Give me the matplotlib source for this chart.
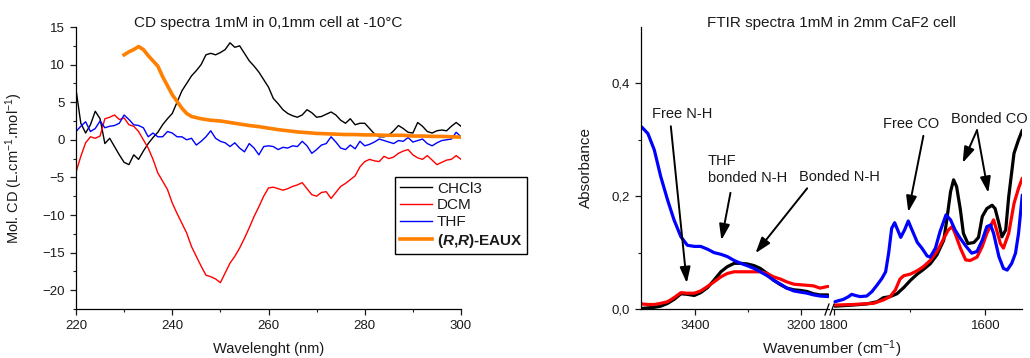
import matplotlib
matplotlib.use("Agg")
from matplotlib import pyplot as plt
from matplotlib.lines import Line2D

# ---- CD spectra (left) ----
cd_nm = list(range(220, 301))
cd_chcl3 = [6.7, 2.2, 0.9, 2.0, 3.8, 2.8, -0.5, 0.2, -0.9, -2.0,
            -3.0, -3.3, -2.0, -2.6, -1.5, -0.5, 0.3, 1.0, 2.0, 2.8,
            3.5, 5.0, 6.5, 7.5, 8.5, 9.2, 10.0, 11.3, 11.5, 11.3,
            11.6, 12.0, 12.9, 12.3, 12.5, 11.5, 10.5, 9.8, 9.0, 8.0,
            7.0, 5.5, 4.8, 4.0, 3.5, 3.2, 3.0, 3.3, 4.0, 3.6,
            3.0, 3.1, 3.4, 3.7, 3.3, 2.6, 2.2, 2.8, 2.0, 2.2,
            2.2, 1.5, 0.8, 0.4, 0.4, 0.6, 1.2, 1.9, 1.5, 1.0,
            0.9, 2.3, 1.8, 1.1, 0.9, 1.2, 1.3, 1.2, 1.8, 2.3, 1.8]
cd_dcm = [-4.3, -2.2, -0.4, 0.4, 0.2, 0.5, 2.8, 3.0, 3.3, 2.7,
          2.9, 2.0, 1.8, 1.1, 0.0, -1.1, -2.6, -4.4, -5.5, -6.6,
          -8.4, -9.8, -11.1, -12.4, -14.2, -15.5, -16.8, -18.0, -18.2, -18.5,
          -19.0, -17.7, -16.4, -15.5, -14.4, -13.1, -11.7, -10.2, -8.9, -7.5,
          -6.4, -6.3, -6.5, -6.7, -6.5, -6.2, -6.0, -5.7, -6.5, -7.3,
          -7.5, -7.0, -6.9, -7.8, -7.0, -6.2, -5.8, -5.3, -4.8, -3.6,
          -2.9, -2.6, -2.8, -2.9, -2.2, -2.5, -2.3, -1.8, -1.5, -1.3,
          -2.0, -2.4, -2.6, -2.1, -2.7, -3.3, -3.0, -2.7, -2.6, -2.1, -2.6]
cd_thf = [1.1, 1.8, 2.4, 1.1, 1.5, 2.5, 1.6, 1.8, 1.9, 2.2,
          3.3, 2.7, 2.0, 1.9, 1.6, 0.4, 0.9, 0.4, 0.4, 1.1,
          0.9, 0.4, 0.4, 0.0, 0.2, -0.7, -0.2, 0.4, 1.2, 0.2,
          -0.2, -0.4, -0.9, -0.4, -1.1, -1.6, -0.5, -1.1, -2.0, -0.9,
          -0.8, -0.9, -1.3, -1.0, -1.1, -0.8, -0.9, -0.2, -0.8, -1.8,
          -1.3, -0.7, -0.5, 0.4, -0.3, -1.1, -1.3, -0.7, -1.2, -0.2,
          -0.8, -0.6, -0.3, 0.1, -0.1, -0.3, -0.5, -0.1, -0.2, 0.3,
          -0.3, -0.1, 0.1, -0.5, -0.8, -0.4, -0.1, 0.0, 0.1, 1.0, 0.4]
eaux_nm = [230, 231, 232, 233, 234, 235, 236, 237, 238, 239, 240, 241, 242,
           243, 244, 246, 248, 250, 252, 254, 256, 258, 260, 262, 264, 266,
           268, 270, 272, 274, 276, 278, 280, 282, 284, 286, 288, 290, 292,
           294, 296, 298, 300]
eaux_cd = [11.3, 11.7, 12.0, 12.4, 12.0, 11.2, 10.5, 9.8, 8.4, 7.2, 6.0, 5.1,
           4.2, 3.5, 3.1, 2.8, 2.6, 2.5, 2.3, 2.1, 1.9, 1.75, 1.55, 1.35, 1.2,
           1.05, 0.95, 0.85, 0.8, 0.75, 0.7, 0.7, 0.65, 0.65, 0.6, 0.6, 0.6,
           0.5, 0.5, 0.45, 0.45, 0.4, 0.35]

# ---- FTIR spectra (right) ----
nh_wn = [3500, 3488, 3476, 3464, 3451, 3439, 3426, 3414, 3401, 3389, 3376,
         3364, 3351, 3339, 3326, 3314, 3302, 3289, 3277, 3264, 3252, 3239,
         3227, 3214, 3202, 3189, 3177, 3165, 3150]
nh_thf = [0.323, 0.311, 0.282, 0.235, 0.193, 0.158, 0.128, 0.113, 0.111,
          0.111, 0.106, 0.100, 0.097, 0.093, 0.086, 0.081, 0.077, 0.072,
          0.066, 0.059, 0.051, 0.044, 0.037, 0.032, 0.030, 0.028, 0.025,
          0.023, 0.022]
nh_chcl3 = [0.001, 0.002, 0.003, 0.005, 0.010, 0.017, 0.027, 0.026, 0.024,
            0.029, 0.038, 0.051, 0.066, 0.075, 0.081, 0.081, 0.080, 0.077,
            0.072, 0.063, 0.051, 0.043, 0.037, 0.034, 0.033, 0.031, 0.027,
            0.025, 0.025]
nh_dcm = [0.009, 0.008, 0.008, 0.010, 0.013, 0.020, 0.029, 0.028, 0.028,
          0.032, 0.040, 0.048, 0.057, 0.063, 0.066, 0.066, 0.066, 0.066,
          0.066, 0.063, 0.057, 0.053, 0.048, 0.044, 0.043, 0.042, 0.041,
          0.037, 0.040]

co_wn_thf = [1799, 1788, 1781, 1777, 1772, 1766, 1757, 1750, 1743, 1737, 1732,
             1728, 1724, 1720, 1716, 1712, 1707, 1702, 1697, 1690, 1684, 1677,
             1673, 1666, 1660, 1652, 1646, 1640, 1633, 1626, 1618, 1611, 1604,
             1598, 1593, 1589, 1582, 1576, 1571, 1565, 1560, 1556, 1551]
co_thf = [0.013, 0.017, 0.022, 0.026, 0.024, 0.022, 0.023, 0.031, 0.043,
          0.054, 0.066, 0.099, 0.143, 0.153, 0.140, 0.127, 0.140, 0.156,
          0.140, 0.118, 0.108, 0.094, 0.092, 0.108, 0.137, 0.167, 0.158,
          0.140, 0.125, 0.112, 0.099, 0.102, 0.122, 0.146, 0.149, 0.134,
          0.093, 0.072, 0.069, 0.081, 0.099, 0.134, 0.202]
co_wn_chcl3 = [1799, 1775, 1757, 1743, 1735, 1726, 1717, 1708, 1699, 1690,
               1682, 1673, 1664, 1655, 1651, 1646, 1642, 1638, 1633, 1629,
               1623, 1615, 1609, 1604, 1598, 1591, 1587, 1582, 1578, 1573,
               1569, 1562, 1556, 1551]
co_chcl3 = [0.005, 0.007, 0.009, 0.013, 0.020, 0.022, 0.027, 0.038, 0.051,
            0.062, 0.070, 0.080, 0.096, 0.122, 0.158, 0.208, 0.229, 0.217,
            0.176, 0.134, 0.116, 0.118, 0.127, 0.164, 0.178, 0.184, 0.178,
            0.152, 0.128, 0.140, 0.199, 0.276, 0.300, 0.317]
co_wn_dcm = [1799, 1775, 1748, 1735, 1726, 1719, 1713, 1708, 1699, 1690, 1682,
             1673, 1664, 1655, 1649, 1644, 1640, 1633, 1626, 1620, 1611, 1604,
             1598, 1589, 1585, 1580, 1576, 1569, 1562, 1556, 1551]
co_dcm = [0.007, 0.008, 0.010, 0.016, 0.022, 0.034, 0.053, 0.059, 0.062,
          0.068, 0.075, 0.086, 0.102, 0.125, 0.140, 0.146, 0.134, 0.108,
          0.087, 0.086, 0.092, 0.111, 0.134, 0.158, 0.140, 0.116, 0.108,
          0.134, 0.187, 0.214, 0.232]

ftir_yticks = [0.0, 0.2, 0.4]
ftir_ylabels = ['0,0', '0,2', '0,4']

plt.rcParams['font.family'] = ['Liberation Sans', 'DejaVu Sans']
plt.rcParams['mathtext.fontset'] = 'custom'
plt.rcParams['mathtext.rm'] = 'Liberation Sans'
plt.rcParams['mathtext.it'] = 'Liberation Sans:italic'
plt.rcParams['mathtext.bf'] = 'Liberation Sans:bold'
plt.rcParams['mathtext.bfit'] = 'Liberation Sans:bold:italic'
plt.rcParams['text.color'] = '#1a1a1a'
plt.rcParams['axes.labelcolor'] = '#1a1a1a'
plt.rcParams['xtick.color'] = '#1a1a1a'
plt.rcParams['ytick.color'] = '#1a1a1a'

W, H = 1030, 358
fig = plt.figure(figsize=(W / 100, H / 100), dpi=100, facecolor='w')


def box(x0, x1, y_top=27, y_bot=309):
    return [x0 / W, 1 - y_bot / H, (x1 - x0) / W, (y_bot - y_top) / H]


def style(ax):
    for s in ['top', 'right']:
        ax.spines[s].set_visible(False)
    for s in ['left', 'bottom']:
        ax.spines[s].set_linewidth(0.9)
    ax.tick_params(which='major', direction='out', length=4, width=0.9,
                   labelsize=9.5, pad=4)
    ax.tick_params(which='minor', direction='out', length=2.5, width=0.8)


# left chart
ax1 = fig.add_axes(box(76, 461))
style(ax1)
ax1.plot(cd_nm, cd_chcl3, color='black', lw=1.0, label='CHCl3')
ax1.plot(cd_nm, cd_dcm, color='#ff0000', lw=1.0, label='DCM')
ax1.plot(cd_nm, cd_thf, color='#0000ff', lw=1.0, label='THF')
ax1.plot(eaux_nm, eaux_cd, color='#ff8000', lw=2.6,
         label=r'($\mathbfit{R}$,$\mathbfit{R}$)-EAUX')
ax1.set_xlim(220, 300)
ax1.set_ylim(-22.5, 15)
ax1.set_xticks(range(220, 301, 20))
ax1.set_xticks(range(230, 300, 20), minor=True)
ax1.set_yticks(range(-20, 16, 5))
ax1.set_yticks([-22.5, -17.5, -12.5, -7.5, -2.5, 2.5, 7.5, 12.5], minor=True)
ax1.set_ylabel(r'Mol. CD (L.cm$^{-1}$.mol$^{-1}$)', fontsize=10.5)
ax1.yaxis.set_label_coords(-0.132, 0.5)
fig.text(268.5 / W, 1 - 353 / H, 'Wavelenght (nm)', ha='center',
         va='baseline', fontsize=10.5)
fig.text(268.5 / W, 1 - 27.5 / H, 'CD spectra 1mM in 0,1mm cell at -10°C',
         ha='center', va='baseline', fontsize=11)

leg = ax1.legend(loc='upper left', bbox_to_anchor=(395 / W, 1 - 177 / H),
                 bbox_transform=fig.transFigure, borderaxespad=0,
                 fontsize=11, frameon=True, fancybox=False, framealpha=1,
                 edgecolor='black', handlelength=2.1, handletextpad=0.35,
                 labelspacing=0.18, borderpad=0.3)
leg.get_frame().set_linewidth(1.0)
leg.get_texts()[3].set_fontweight('bold')

# right chart: broken x axis, two pieces
ax2a = fig.add_axes(box(641, 829))
ax2b = fig.add_axes(box(832, 1022), sharey=ax2a)
style(ax2a)
style(ax2b)
ax2b.patch.set_visible(False)
ax2b.spines['left'].set_visible(False)
ax2b.tick_params(axis='y', which='both', left=False, labelleft=False)

for ax, xs, ys in [(ax2a, [nh_wn, nh_wn, nh_wn], [nh_chcl3, nh_dcm, nh_thf]),
                   (ax2b, [co_wn_chcl3, co_wn_dcm, co_wn_thf],
                    [co_chcl3, co_dcm, co_thf])]:
    for x, y, c in zip(xs, ys, ['black', '#ff0000', '#0000ff']):
        ax.plot(x, y, color=c, lw=2.3, solid_joinstyle='round',
                solid_capstyle='round')

ax2a.set_xlim(3501, 3148)
ax2b.set_xlim(1803, 1551.4)
ax2a.set_ylim(0, 0.5)
ax2a.set_yticks(ftir_yticks)
ax2a.set_yticklabels(ftir_ylabels)
ax2a.set_yticks([0.1, 0.3], minor=True)
ax2a.set_xticks([3400, 3200])
ax2a.set_xticks([3300], minor=True)
ax2b.set_xticks([1800, 1600])
ax2b.set_xticks([1700], minor=True)
ax2a.set_ylabel('Absorbance', fontsize=11)
ax2a.yaxis.set_label_coords(-0.255, 0.5)
fig.text(831.5 / W, 1 - 354 / H, 'Wavenumber (cm$^{-1}$)',
         ha='center', va='baseline', fontsize=11)
fig.text(831.5 / W, 1 - 27.5 / H, 'FTIR spectra 1mM in 2mm CaF2 cell',
         ha='center', va='baseline', fontsize=11)

# axis break marks
for x0 in [825, 830]:
    fig.add_artist(Line2D([x0 / W, (x0 + 4) / W], [1 - 315 / H, 1 - 304 / H],
                          transform=fig.transFigure, color='black', lw=0.9))

# annotations
arrow = dict(arrowstyle='-|>,head_length=0.6,head_width=0.2', color='black',
             lw=1.4, shrinkA=0, shrinkB=0, mutation_scale=16)
fs = 10.5
ax2a.text(3480, 0.338, 'Free N-H', fontsize=fs, va='baseline')
ax2a.annotate('', xy=(3415, 0.046), xytext=(3445, 0.324), arrowprops=arrow)
ax2a.text(3376, 0.225, 'THF\nbonded N-H', fontsize=fs, va='baseline',
          linespacing=1.3)
ax2a.annotate('', xy=(3350, 0.122), xytext=(3333, 0.206), arrowprops=arrow)
ax2a.text(3204, 0.227, 'Bonded N-H', fontsize=fs, va='baseline',
          clip_on=False, zorder=5)
ax2a.annotate('', xy=(3286, 0.099), xytext=(3189, 0.214), arrowprops=arrow)
ax2b.text(1735, 0.321, 'Free CO', fontsize=fs, va='baseline')
ax2b.annotate('', xy=(1702, 0.172), xytext=(1682, 0.307), arrowprops=arrow)
ax2b.text(1645, 0.330, 'Bonded CO', fontsize=fs, va='baseline',
          clip_on=False)
ax2b.annotate('', xy=(1630, 0.259), xytext=(1611, 0.317), arrowprops=arrow)
ax2b.annotate('', xy=(1596, 0.206), xytext=(1611, 0.317), arrowprops=arrow)

plt.savefig('out.png', dpi=100)
